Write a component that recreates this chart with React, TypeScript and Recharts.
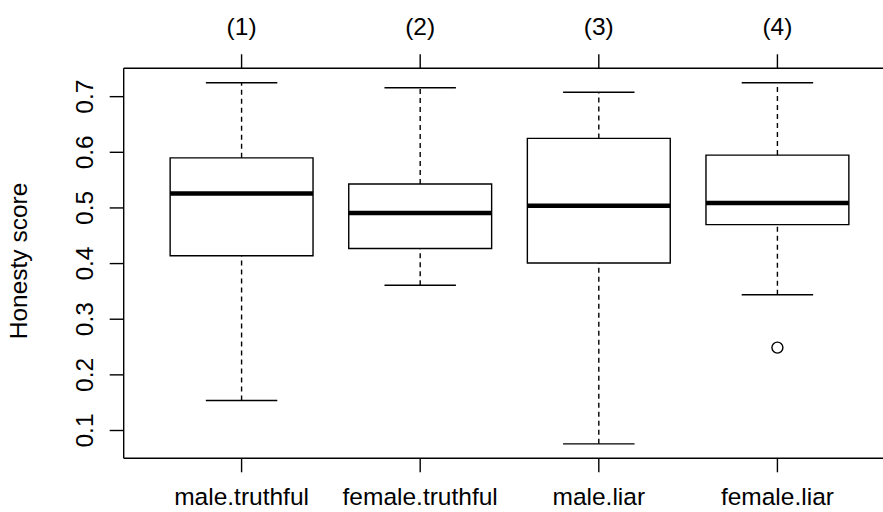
import {
  ComposedChart,
  XAxis,
  YAxis,
  Scatter,
  ReferenceArea,
  ReferenceLine,
} from "recharts";

// ─── data ─────────────────────────────────────────────────────────────────
const categories = ["male.truthful", "female.truthful", "male.liar", "female.liar"];
const topLabels = ["(1)", "(2)", "(3)", "(4)"];
const lowerWhisker = [0.154, 0.361, 0.076, 0.344];
const q1 = [0.414, 0.427, 0.401, 0.47];
const median = [0.526, 0.491, 0.504, 0.509];
const q3 = [0.59, 0.543, 0.625, 0.595];
const upperWhisker = [0.725, 0.716, 0.708, 0.725];
const outliers = [{ x: 4, y: 0.249 }];
const yTicks = [0.1, 0.2, 0.3, 0.4, 0.5, 0.6, 0.7];

// ─── look ─────────────────────────────────────────────────────────────────
const FONT = '"Liberation Sans", Arial, Helvetica, sans-serif';
const FS = 24.5;
const INK = "#000";
const LW = 1.4;

// R-style axis range: data range padded by 4 %
const allVals = [...lowerWhisker, ...upperWhisker, ...outliers.map((o) => o.y)];
const yLo = Math.min(...allVals);
const yHi = Math.max(...allVals);
const yPad = (yHi - yLo) * 0.04;
const xPad = categories.length * 0.04;

const BOX_HALF = 0.4;
const CAP_HALF = 0.2;

function BottomTick({ x, y, payload }: any) {
  return (
    <text
      x={x}
      y={y + 33}
      textAnchor="middle"
      fontSize={FS}
      fontFamily={FONT}
      fill={INK}
    >
      {categories[payload.value - 1]}
    </text>
  );
}

function TopTick({ x, y, payload }: any) {
  return (
    <text
      x={x}
      y={y - 19}
      textAnchor="middle"
      fontSize={FS}
      fontFamily={FONT}
      fill={INK}
    >
      {topLabels[payload.value - 1]}
    </text>
  );
}

function LeftTick({ x, y, payload }: any) {
  return (
    <g transform={`translate(${x - 17},${y}) rotate(-90)`}>
      <text textAnchor="middle" fontSize={FS} fontFamily={FONT} fill={INK}>
        {payload.value.toFixed(1)}
      </text>
    </g>
  );
}

function YTitle() {
  return (
    <g transform="translate(27,261) rotate(-90)">
      <text textAnchor="middle" fontSize={FS} fontFamily={FONT} fill={INK}>
        Honesty score
      </text>
    </g>
  );
}

function OutlierDot({ cx, cy }: any) {
  return <circle cx={cx} cy={cy} r={5.5} fill="#fff" stroke={INK} strokeWidth={LW} />;
}

export default function App() {
  const tickLine = { stroke: INK, strokeWidth: LW };
  const axisLine = { stroke: INK, strokeWidth: LW };

  return (
    <div
      style={{
        position: "fixed",
        left: 0,
        top: 0,
        width: 883,
        height: 512,
        overflow: "hidden",
        background: "#fff",
      }}
    >
      <ComposedChart
        width={920}
        height={512}
        margin={{ top: 0, right: 0, bottom: 0, left: 0 }}
      >
        <XAxis
          xAxisId="b"
          dataKey="x"
          type="number"
          domain={[0.5 - xPad, categories.length + 0.5 + xPad]}
          ticks={[1, 2, 3, 4]}
          height={53.7}
          tickSize={14}
          tickMargin={0}
          tickLine={tickLine}
          axisLine={axisLine}
          tick={<BottomTick />}
          allowDataOverflow
        />
        <XAxis
          xAxisId="t"
          orientation="top"
          dataKey="x"
          type="number"
          domain={[0.5 - xPad, categories.length + 0.5 + xPad]}
          ticks={[1, 2, 3, 4]}
          height={68.3}
          tickSize={14}
          tickMargin={0}
          tickLine={tickLine}
          axisLine={axisLine}
          tick={<TopTick />}
          allowDataOverflow
        />
        <YAxis
          yAxisId="l"
          type="number"
          domain={[yLo - yPad, yHi + yPad]}
          ticks={yTicks}
          width={123.7}
          tickSize={14}
          tickMargin={0}
          tickLine={tickLine}
          axisLine={axisLine}
          tick={<LeftTick />}
          label={{ content: () => <YTitle /> }}
          allowDataOverflow
        />
        <YAxis
          yAxisId="r"
          orientation="right"
          type="number"
          domain={[yLo - yPad, yHi + yPad]}
          width={24.7}
          tick={false}
          tickLine={false}
          axisLine={axisLine}
        />

        {categories.map((c, i) => {
          const g = i + 1;
          return [
            <ReferenceLine
              key={`wl-${c}`}
              xAxisId="b"
              yAxisId="l"
              segment={[{ x: g, y: lowerWhisker[i] }, { x: g, y: q1[i] }]}
              stroke={INK}
              strokeWidth={LW}
              strokeDasharray="5 4"
            />,
            <ReferenceLine
              key={`wu-${c}`}
              xAxisId="b"
              yAxisId="l"
              segment={[{ x: g, y: q3[i] }, { x: g, y: upperWhisker[i] }]}
              stroke={INK}
              strokeWidth={LW}
              strokeDasharray="5 4"
            />,
            <ReferenceLine
              key={`cl-${c}`}
              xAxisId="b"
              yAxisId="l"
              segment={[
                { x: g - CAP_HALF, y: lowerWhisker[i] },
                { x: g + CAP_HALF, y: lowerWhisker[i] },
              ]}
              stroke={INK}
              strokeWidth={LW}
            />,
            <ReferenceLine
              key={`cu-${c}`}
              xAxisId="b"
              yAxisId="l"
              segment={[
                { x: g - CAP_HALF, y: upperWhisker[i] },
                { x: g + CAP_HALF, y: upperWhisker[i] },
              ]}
              stroke={INK}
              strokeWidth={LW}
            />,
            <ReferenceArea
              key={`box-${c}`}
              xAxisId="b"
              yAxisId="l"
              x1={g - BOX_HALF}
              x2={g + BOX_HALF}
              y1={q1[i]}
              y2={q3[i]}
              fill="#fff"
              fillOpacity={1}
              stroke={INK}
              strokeWidth={LW}
            />,
            <ReferenceLine
              key={`md-${c}`}
              xAxisId="b"
              yAxisId="l"
              segment={[
                { x: g - BOX_HALF, y: median[i] },
                { x: g + BOX_HALF, y: median[i] },
              ]}
              stroke={INK}
              strokeWidth={4.5}
            />,
          ];
        })}

        <Scatter
          xAxisId="b"
          yAxisId="l"
          data={outliers}
          dataKey="y"
          shape={<OutlierDot />}
          isAnimationActive={false}
        />
      </ComposedChart>
    </div>
  );
}
